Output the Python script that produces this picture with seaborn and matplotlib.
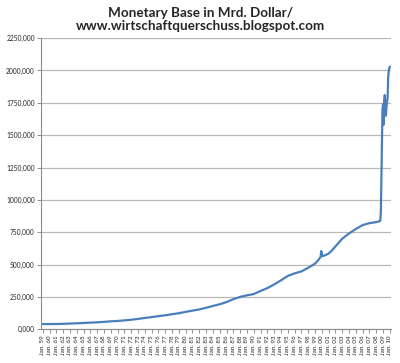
import pandas as pd
import matplotlib
matplotlib.use("Agg")
import matplotlib.pyplot as plt
import matplotlib.ticker as mticker
import seaborn as sns

# monetary base, Mrd. Dollar
dates = ["1959-01", "1960-01", "1961-01", "1962-01", "1963-01", "1964-01", "1965-01",
         "1966-01", "1967-01", "1968-01", "1969-01", "1970-01", "1971-01", "1972-01",
         "1973-01", "1974-01", "1975-01", "1976-01", "1977-01", "1978-01", "1979-01",
         "1980-01", "1981-01", "1982-01", "1983-01", "1984-01", "1985-01", "1986-01",
         "1987-01", "1988-01", "1989-01", "1990-01", "1991-01", "1992-01", "1993-01",
         "1994-01", "1995-01", "1996-01", "1997-01", "1998-01", "1999-01", "1999-07",
         "1999-11", "1999-12", "2000-01", "2000-02", "2000-07", "2001-01", "2001-07",
         "2002-01", "2003-01", "2004-01", "2005-01", "2006-01", "2007-01", "2008-01",
         "2008-06", "2008-08", "2008-09", "2008-10", "2008-11", "2008-12", "2009-01",
         "2009-02", "2009-03", "2009-04", "2009-05", "2009-06", "2009-07", "2009-08",
         "2009-09", "2009-10", "2009-11", "2009-12", "2010-01"]
values = [40, 40, 40.5, 42, 44, 46, 48.5,
          51, 53.5, 57, 61, 64, 68.5, 73.5,
          80, 87, 94, 101, 108, 116, 124,
          134, 144, 153, 166, 180, 193, 210,
          232, 250, 262, 272, 296, 318, 346,
          378, 412, 432, 447, 475, 507, 535,
          560, 604, 585, 565, 572, 585, 610,
          640, 700, 740, 775, 805, 820, 828,
          834, 838, 900, 1150, 1450, 1700, 1740,
          1580, 1760, 1810, 1700, 1650, 1720, 1760,
          1790, 1950, 2000, 2020, 2030]

years = list(range(1959, 2011))
tick_labels = ["Jan. %02d" % (y % 100) for y in years]

df = pd.DataFrame({"date": pd.to_datetime(dates), "value": values})

sns.set_style("white")
plt.rcParams["font.family"] = ["Lato", "DejaVu Sans"]

fig = plt.figure(figsize=(4, 3.63), dpi=100)
ax = fig.add_axes([0.1025, 0.093, 0.875, 0.802])

sns.lineplot(data=df, x="date", y="value", ax=ax, color="#4a7ebb", linewidth=1.6)

ax.set_ylim(0, 2250)
ax.yaxis.set_major_locator(mticker.MultipleLocator(250))
ax.yaxis.set_major_formatter(mticker.FuncFormatter(lambda v, p: ("%.3f" % v).replace(".", ",")))
ax.grid(axis="y", color="#b8b8b8", linewidth=0.9)
ax.set_axisbelow(True)

tick_pos = pd.to_datetime(["%d-01-01" % y for y in years])
ax.set_xticks(tick_pos)
ax.set_xticklabels(tick_labels, rotation=90, fontsize=4.5)
ax.set_xlim(pd.Timestamp("1958-10-01"), pd.Timestamp("2010-03-01"))
ax.tick_params(axis="x", length=3, width=0.6, color="#808080", pad=1.5, direction="out", bottom=True)
ax.tick_params(axis="y", labelsize=4.8, length=3, width=0.6, color="#808080", pad=1.5, left=True)

for s in ["top", "right"]:
    ax.spines[s].set_visible(False)
for s in ["left", "bottom"]:
    ax.spines[s].set_color("#8c8c8c")
    ax.spines[s].set_linewidth(0.8)

ax.set_xlabel("")
ax.set_ylabel("")
fig.suptitle("Monetary Base in Mrd. Dollar/\nwww.wirtschaftquerschuss.blogspot.com",
             x=0.5, y=0.982, fontsize=9.7, fontweight="bold", linespacing=1.1)

fig.savefig("out.png", dpi=100)
